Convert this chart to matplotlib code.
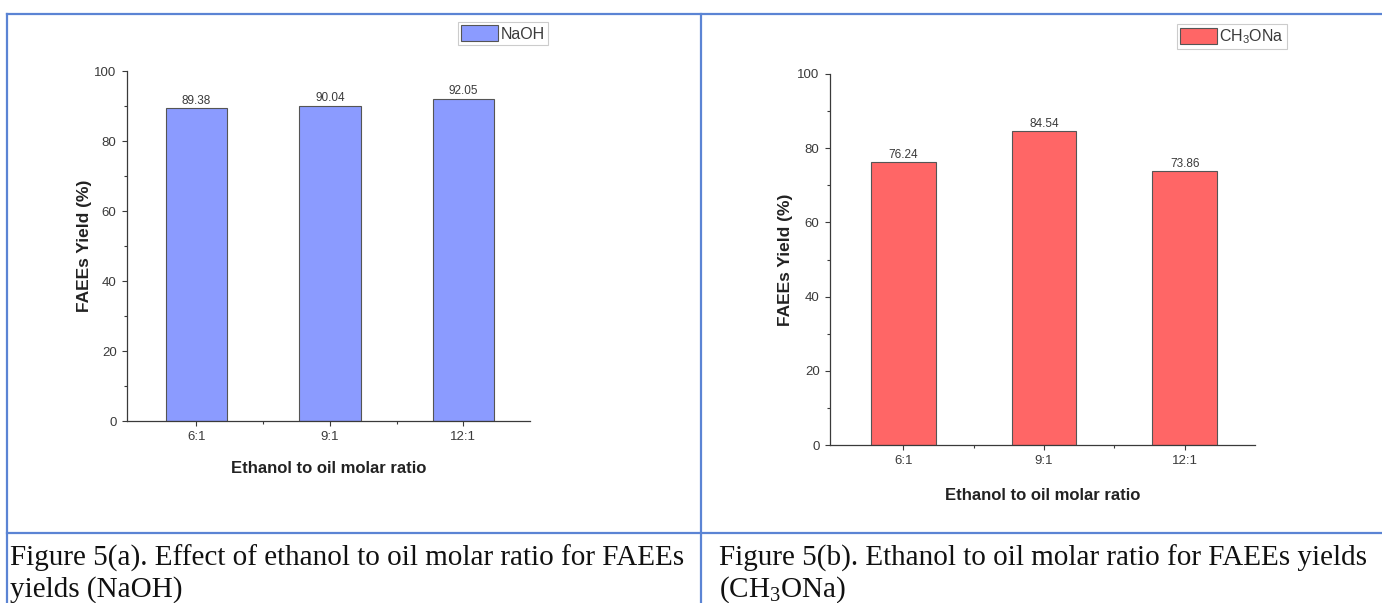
import matplotlib
matplotlib.use('Agg')
import matplotlib.pyplot as plt
from matplotlib.lines import Line2D

plt.rcParams['font.family'] = ['Liberation Sans', 'DejaVu Sans']

ratios = ['6:1', '9:1', '12:1']
yield_naoh = [89.38, 90.04, 92.05]
yield_ch3ona = [76.24, 84.54, 73.86]
caption_a = ['Figure 5(a). Effect of ethanol to oil molar ratio for FAEEs', 'yields (NaOH)']
caption_b = ['Figure 5(b). Ethanol to oil molar ratio for FAEEs yields', r'($\mathregular{CH_3}$ONa)']

W, H = 1382, 603
fig = plt.figure(figsize=(W / 100, H / 100), dpi=100)
ink = '#3a3a3a'


def px(x0, y_top, x1, y_bot):
    return [x0 / W, 1 - y_bot / H, (x1 - x0) / W, (y_bot - y_top) / H]


def panel(rect, vals, color, name, xlpad, ylpad):
    ax = fig.add_axes(rect)
    pos = [1, 2, 3]
    bars = ax.bar(pos, vals, width=0.46, color=color, edgecolor='#555555', linewidth=0.8, label=name)
    ax.bar_label(bars, fmt='%.2f', fontsize=8.5, color=ink, padding=1)
    ax.set_xlim(0.48, 3.5)
    ax.set_ylim(0, 100)
    ax.set_xticks(pos)
    ax.set_xticklabels(ratios)
    ax.set_xticks([1.5, 2.5], minor=True)
    ax.set_yticks(range(0, 101, 20))
    ax.set_yticks(range(10, 100, 20), minor=True)
    for s in ['top', 'right']:
        ax.spines[s].set_visible(False)
    for s in ['left', 'bottom']:
        ax.spines[s].set_color(ink)
        ax.spines[s].set_linewidth(0.9)
    ax.tick_params(which='major', direction='out', length=3.5, width=0.8, color=ink,
                   labelsize=9.5, labelcolor=ink, pad=4)
    ax.tick_params(which='minor', direction='out', length=2, width=0.8, color=ink)
    ax.set_xlabel('Ethanol to oil molar ratio', fontsize=12, fontweight='bold', color='#222222', labelpad=xlpad)
    ax.set_ylabel('FAEEs Yield (%)', fontsize=12.5, fontweight='bold', color='#222222', labelpad=ylpad)
    return ax


ax1 = panel(px(127, 71, 530, 421), yield_naoh, '#8b9bff', 'NaOH', 13, 2)
ax2 = panel(px(830, 74, 1255, 445), yield_ch3ona, '#ff6666', r'$\mathregular{CH_3}$ONa', 15, 3)

for ax, (x0, y0) in [(ax1, (458, 22)), (ax2, (1177, 24))]:
    leg = ax.legend(loc='upper left', bbox_to_anchor=(x0 / W, 1 - y0 / H), bbox_transform=fig.transFigure,
                    fontsize=11.5, frameon=True, fancybox=False, framealpha=1, edgecolor='#cccccc',
                    handlelength=2.3, handleheight=1.15, handletextpad=0.15, borderpad=0.2,
                    borderaxespad=0)
    leg.get_frame().set_linewidth(0.8)
    for t in leg.get_texts():
        t.set_color(ink)

# table borders
blue = '#5b84d4'
lines = [((7, W), (13.5, 13.5)), ((7, 7), (13.5, H)), ((701, 701), (13.5, H)), ((7, W), (533, 533))]
for xs, ys in lines:
    fig.add_artist(Line2D([x / W for x in xs], [1 - y / H for y in ys], color=blue, linewidth=1.6,
                          transform=fig.transFigure))

for lines_txt, x0 in [(caption_a, 10), (caption_b, 719)]:
    for i, t in enumerate(lines_txt):
        fig.text(x0 / W, 1 - (558 + 32 * i) / H, t, fontsize=21, family='Liberation Serif',
                 color='#111111', ha='left', va='center')

fig.savefig('out.png', dpi=100)
